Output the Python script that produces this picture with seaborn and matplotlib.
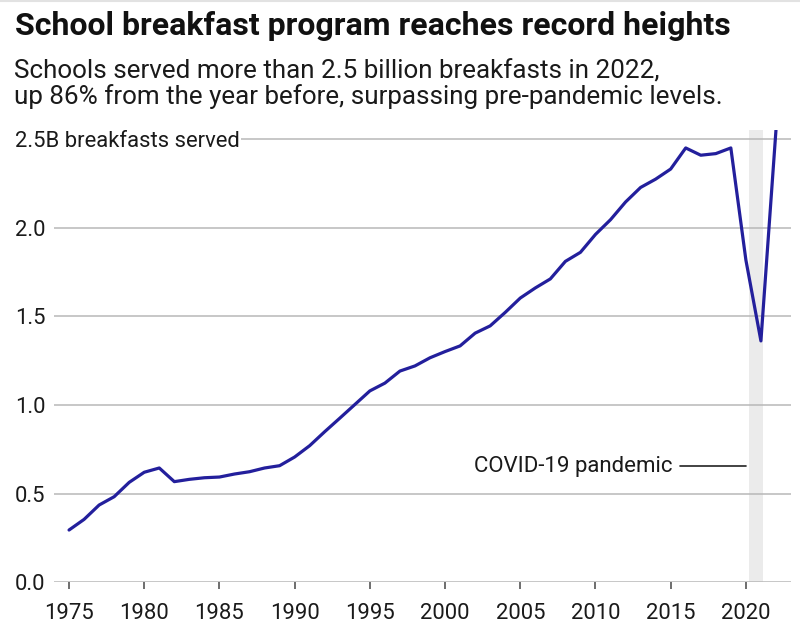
import matplotlib
matplotlib.use("Agg")
import matplotlib.pyplot as plt
import seaborn as sns
import pandas as pd
from matplotlib.lines import Line2D

# ---- data (billions of breakfasts served) ----
years = list(range(1975, 2023))
breakfasts = [0.295, 0.355, 0.436, 0.483, 0.564, 0.621, 0.645, 0.568, 0.581, 0.590,
              0.594, 0.611, 0.624, 0.645, 0.658, 0.707, 0.771, 0.850, 0.926, 1.003,
              1.080, 1.124, 1.192, 1.221, 1.267, 1.302, 1.334, 1.406, 1.447, 1.523,
              1.604, 1.661, 1.712, 1.811, 1.862, 1.963, 2.046, 2.146, 2.228, 2.275,
              2.332, 2.451, 2.410, 2.419, 2.451, 1.819, 1.362, 2.551]
pandemic_start, pandemic_end = 2020.2, 2021.15
xticks = [1975, 1980, 1985, 1990, 1995, 2000, 2005, 2010, 2015, 2020]
yticks = [0.0, 0.5, 1.0, 1.5, 2.0, 2.5]
ytick_labels = ["0.0", "0.5", "1.0", "1.5", "2.0", "2.5B breakfasts served"]

title = "School breakfast program reaches record heights"
subtitle1 = "Schools served more than 2.5 billion breakfasts in 2022,"
subtitle2 = "up 86% from the year before, surpassing pre-pandemic levels."

df = pd.DataFrame({"year": years, "breakfasts": breakfasts})

sns.set_style("white")
plt.rcParams["font.family"] = ["Roboto", "DejaVu Sans"]

W, H = 800, 627
fig = plt.figure(figsize=(W / 100, H / 100), dpi=100)
ax = fig.add_axes([54 / W, (H - 582.3) / H, (791 - 54) / W, (582.3 - 130.4) / H])

TXT = "#1a1a1a"
GRID = "#b8b8b8"

ax.axvspan(pandemic_start, pandemic_end, color="#ebebeb", lw=0, zorder=0)
sns.lineplot(data=df, x="year", y="breakfasts", ax=ax, color="#231f9c",
             linewidth=2.3, zorder=3)

ax.set_xlim(1974, 2023)
ax.set_ylim(0, 2.55)
ax.set_xlabel("")
ax.set_ylabel("")
for s in ax.spines.values():
    s.set_visible(False)

ax.set_xticks(xticks)
ax.set_xticklabels([str(x) for x in xticks])
ax.set_yticks(yticks)
ax.set_yticklabels(ytick_labels)
ax.yaxis.grid(True, color=GRID, linewidth=1.1, zorder=1)
ax.xaxis.grid(False)
ax.set_axisbelow(True)

ax.tick_params(axis="x", length=4.8, width=1.2, color="#555555", pad=10,
               labelsize=15.8, labelcolor=TXT, bottom=True)
ax.tick_params(axis="y", length=0, pad=28.3, labelsize=15.8, labelcolor=TXT)
for lab in ax.get_yticklabels():
    lab.set_horizontalalignment("left")
    lab.set_verticalalignment("center_baseline")
ax.get_yticklabels()[-1].set_bbox(dict(facecolor="white", edgecolor="none", pad=1.2))

# annotation for the pandemic band
ax.text(2015.11, 0.624, "COVID-19 pandemic", ha="right", va="baseline",
        fontsize=16, color=TXT)
ax.plot([2015.63, 2019.99], [0.656, 0.656], color="#222222", lw=1.2, zorder=4)

fig.text(15 / W, 1 - 35 / H, title, fontsize=23, fontweight="bold",
         color="#111111", va="baseline", ha="left")
fig.text(14 / W, 1 - 78.3 / H, subtitle1, fontsize=18.7, color=TXT,
         va="baseline", ha="left")
fig.text(14 / W, 1 - 104 / H, subtitle2, fontsize=18.7, color=TXT,
         va="baseline", ha="left")

fig.add_artist(Line2D([0, 1], [1 - 0.8 / H, 1 - 0.8 / H], transform=fig.transFigure,
                      color="#e2e2e2", lw=1.5))

fig.savefig("out.png", dpi=100)
